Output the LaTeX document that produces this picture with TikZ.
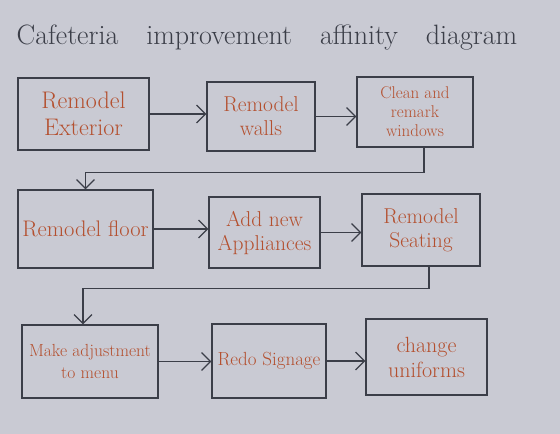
\documentclass[tikz,border=0pt]{standalone}
\usetikzlibrary{arrows.meta}
\definecolor{paper}{HTML}{C9CAD3}
\definecolor{pencil}{HTML}{3B3E48}
\definecolor{ink}{HTML}{B4502F}
\tikzset{
  stepbox/.style={draw=pencil, line width=1.2pt, align=center, text=ink,
    font=\fontsize{21.5}{24}\selectfont, inner sep=2pt},
  flow/.style={draw=pencil, line width=1.2pt, -{Straight Barb[length=9pt,width=18pt,line width=1.2pt]}}
}
\begin{document}
\begin{tikzpicture}[x=1pt, y=-1pt]
  % --- fond ---
  \fill[paper] (0,0) rectangle (560,434);
  \node[font=\fontsize{28}{32}\selectfont, text=pencil] (title) at (267,38)
    {Cafeteria\quad improvement\quad affinity\quad diagram};
  % rang 1
  \node[stepbox, minimum width=131pt, minimum height=72pt,
    font=\fontsize{24}{27}\selectfont] (ext) at (83.5,114) {Remodel\\Exterior};
  \node[stepbox, minimum width=108pt, minimum height=69pt] (wal) at (261,116.5) {Remodel\\walls};
  \node[stepbox, minimum width=116pt, minimum height=70pt,
    font=\fontsize{17}{19}\selectfont] (win) at (415,112) {Clean and\\remark\\windows};
  % rang 2
  \node[stepbox, minimum width=135pt, minimum height=78pt,
    font=\fontsize{22.5}{25}\selectfont] (flr) at (85.5,229) {Remodel floor};
  \node[stepbox, minimum width=111pt, minimum height=71pt] (app) at (264.5,232.5) {Add new\\Appliances};
  \node[stepbox, minimum width=118pt, minimum height=72pt] (sea) at (421,230) {Remodel\\Seating};
  % rang 3
  \node[stepbox, minimum width=136pt, minimum height=73pt,
    font=\fontsize{17.5}{22}\selectfont] (adj) at (90,361.5) {Make adjustment\\to menu};
  \node[stepbox, minimum width=114pt, minimum height=74pt,
    font=\fontsize{19}{22}\selectfont] (sig) at (269,361) {Redo Signage};
  \node[stepbox, minimum width=121pt, minimum height=76pt,
    font=\fontsize{22}{25}\selectfont] (uni) at (426.5,357) {change\\uniforms};
  % fleches
  \draw[flow] (ext.east) -- (ext.east -| wal.west);
  \draw[flow] (wal.east) -- (wal.east -| win.west);
  \draw[flow] ([xshift=9pt]win.south) -- ++(0,25) -| (flr.north);
  \draw[flow] (flr.east) -- (flr.east -| app.west);
  \draw[flow] (app.east) -- (app.east -| sea.west);
  \draw[flow] ([xshift=8pt]sea.south) -- ++(0,22) -| ([xshift=-7pt]adj.north);
  \draw[flow] (adj.east) -- (adj.east -| sig.west);
  \draw[flow] (sig.east) -- (sig.east -| uni.west);
\end{tikzpicture}
\end{document}
